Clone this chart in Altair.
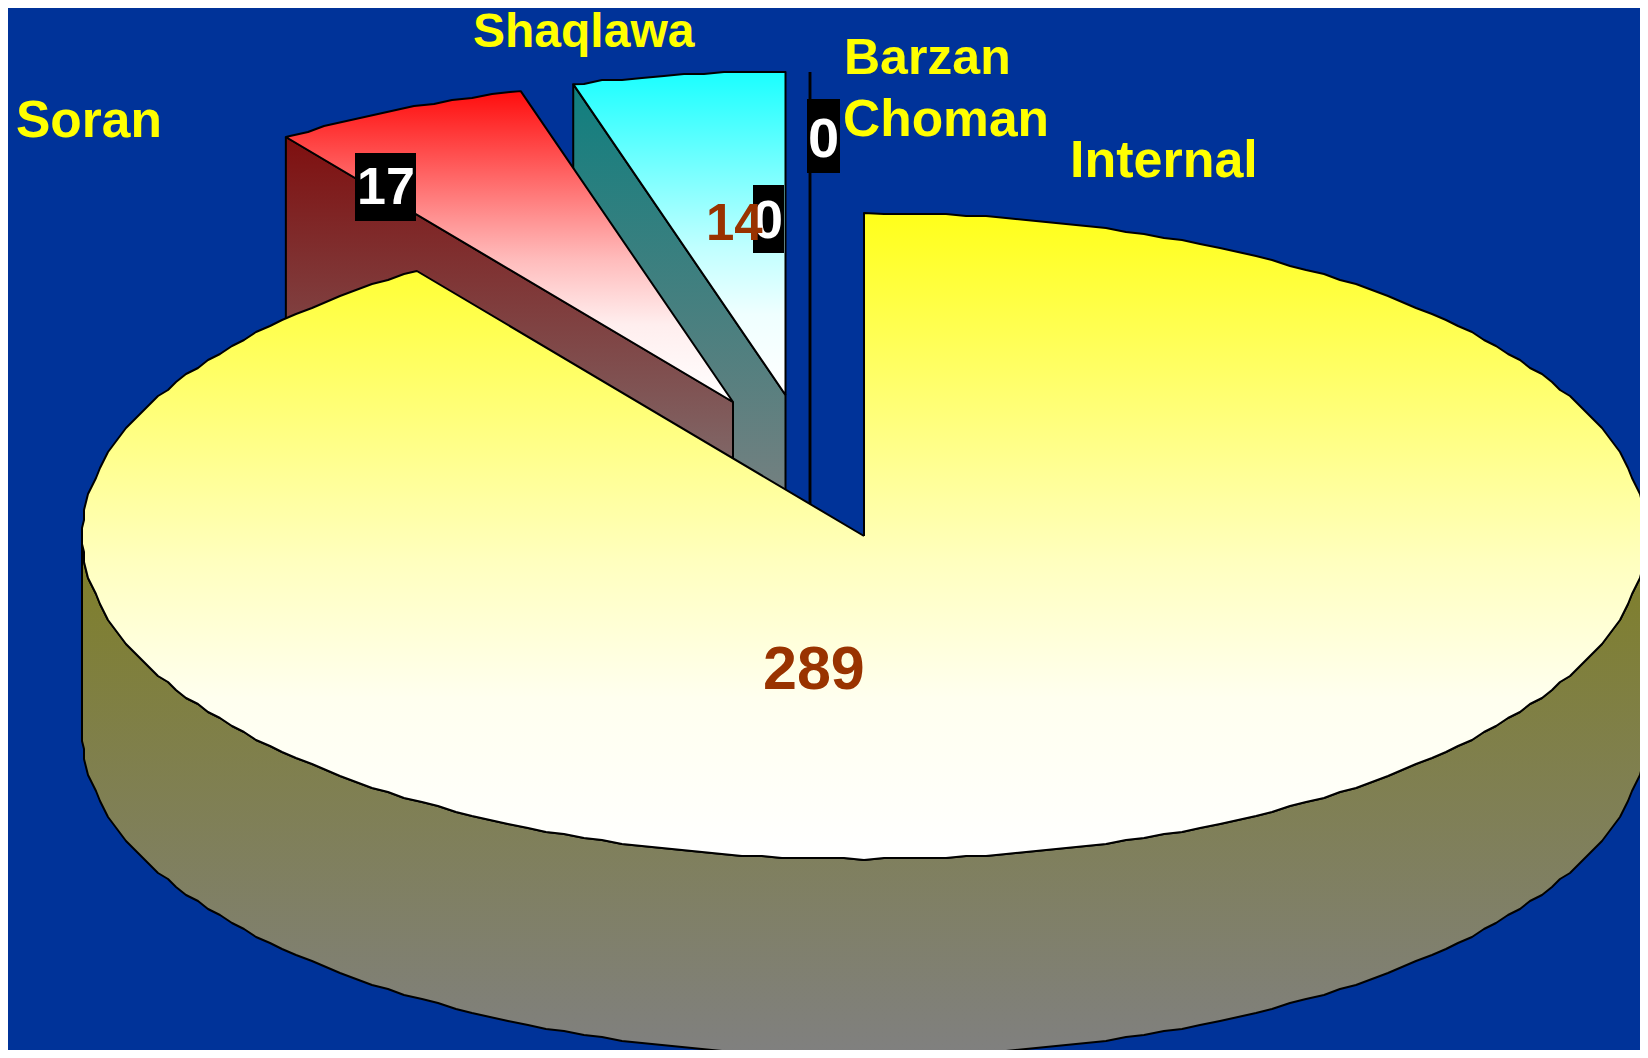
import math
import altair as alt
import pandas as pd

# Data
categories = ["Internal", "Soran", "Shaqlawa", "Barzan", "Choman"]
values = [289, 17, 14, 0, 0]

# Layout of the projected pie (picture pixels)
W, H = 1632, 1042
ORIGIN = 8
RX, RY, DEPTH = 782, 323, 197
GRID = 2  # the outline of the reference is slightly stepped
STEP = 1.5
apex = {
    "Internal": (864, 536),
    "Soran": (733, 402),
    "Shaqlawa": (785.5, 395),
    "Barzan": (810, 395),
    "Choman": (810, 395),
}
top_colors = {"Internal": "#ffff1a", "Soran": "#ff0d0d", "Shaqlawa": "#1affff"}
wall_colors = {"Internal": "#7f7f26", "Soran": "#7f0f0f", "Shaqlawa": "#0f7f7f"}
# (position along the face, share of white)
face_ramp = [(0, 0), (0.41, 0.55), (0.54, 0.72), (0.75, 0.93), (1, 1)]
wall_ramp = [(0, 0), (0.9, 1), (1, 1)]
plain_ramp = [(0, 0), (1, 1)]

x_scale = alt.Scale(domain=[ORIGIN, ORIGIN + W], range=[0, W])
y_scale = alt.Scale(domain=[ORIGIN, ORIGIN + H], range=[0, H])


def mix(c1, c2, t):
    a = [int(c1[i:i + 2], 16) for i in (1, 3, 5)]
    b = [int(c2[i:i + 2], 16) for i in (1, 3, 5)]
    return "#" + "".join(f"{round(p + (q - p) * t):02x}" for p, q in zip(a, b))


def gradient(c1, c2, ramp):
    return alt.LinearGradient(
        gradient="linear", x1=0, x2=0, y1=0, y2=1,
        stops=[alt.GradientStop(color=mix(c1, c2, t), offset=o) for o, t in ramp],
    )


def polygon(points, c1, c2, ramp=plain_ramp, width=2):
    df = pd.DataFrame({"x": [p[0] for p in points], "y": [p[1] for p in points]})
    df["i"] = range(len(df))
    return alt.Chart(df).mark_line(
        fill=gradient(c1, c2, ramp), stroke="black", strokeWidth=width, strokeJoin="round", clip=True
    ).encode(
        x=alt.X("x:Q", scale=x_scale, axis=None),
        y=alt.Y("y:Q", scale=y_scale, axis=None),
        order="i:Q",
    )


def rim(name, deg, stepped=False):
    a = math.radians(deg)
    cx, cy = apex[name]
    x, y = cx + RX * math.sin(a), cy - RY * math.cos(a)
    if stepped:
        x, y = round(x / GRID) * GRID, round(y / GRID) * GRID
    return (x, y)


def arc(name, d0, d1):
    # interior samples sit on a common angular grid so faces and walls share their edge
    k0 = math.floor(d0 / STEP) + 1
    k1 = math.ceil(d1 / STEP) - 1
    inner = [rim(name, k * STEP, True) for k in range(k0, k1 + 1)]
    return [rim(name, d0)] + inner + [rim(name, d1)]


total = sum(values)
start = {}
end = {}
acc = 0
for c, v in zip(categories, values):
    start[c] = acc / total * 360
    acc += v
    end[c] = acc / total * 360

layers = []


def wedge_layers(name):
    cx, cy = apex[name]
    p0 = rim(name, start[name])
    wall = [p0, (cx, cy), (cx, cy + DEPTH), (p0[0], p0[1] + DEPTH), p0]
    face = [(cx, cy)] + arc(name, start[name], end[name]) + [(cx, cy)]
    return [
        polygon(wall, wall_colors[name], "#808080", wall_ramp),
        polygon(face, top_colors[name], "#ffffff", face_ramp),
    ]


# Zero-size slices are a single edge, drawn behind the rest
for name in ["Barzan", "Choman"]:
    cx, cy = apex[name]
    p0 = rim(name, start[name])
    layers.append(polygon([p0, (cx, cy), (cx, cy + DEPTH)], "#000000", "#000000", plain_ramp, 2.5))

layers += wedge_layers("Shaqlawa")
layers += wedge_layers("Soran")

# Main slice: outer wall and top face
front = arc("Internal", 90, 270)
side = front + [(x, y + DEPTH) for x, y in reversed(front)] + [front[0]]
layers.append(polygon(side, wall_colors["Internal"], "#808080"))
cx, cy = apex["Internal"]
layers.append(
    polygon([(cx, cy)] + arc("Internal", start["Internal"], end["Internal"]) + [(cx, cy)],
            top_colors["Internal"], "#ffffff", face_ramp)
)

# Value label backgrounds
boxes = pd.DataFrame({
    "x": [355, 753, 807], "x2": [416, 784, 840],
    "y": [153, 185, 99], "y2": [221, 253, 173],
})
layers.append(
    alt.Chart(boxes).mark_rect(color="black").encode(
        x=alt.X("x:Q", scale=x_scale, axis=None), x2="x2:Q",
        y=alt.Y("y:Q", scale=y_scale, axis=None), y2="y2:Q",
    )
)


def texts(labels, xs, ys, color, size):
    df = pd.DataFrame({"t": labels, "x": xs, "y": ys})
    return alt.Chart(df).mark_text(
        font="Liberation Sans", fontWeight="bold", fontSize=size, color=color,
        align="left", baseline="alphabetic",
    ).encode(
        x=alt.X("x:Q", scale=x_scale, axis=None),
        y=alt.Y("y:Q", scale=y_scale, axis=None),
        text="t:N",
    )


layers.append(texts([str(values[1])], [357], [204], "white", 52))
layers.append(texts([str(values[3])], [753], [238], "white", 54))
layers.append(texts([str(values[4])], [808], [157], "white", 56))
layers.append(texts([str(values[2])], [706], [240], "#993300", 51))
layers.append(texts([str(values[0])], [763], [689], "#993300", 61))

layers.append(texts(["Soran"], [16], [137], "#ffff00", 51.5))
layers.append(texts(["Shaqlawa"], [473], [47], "#ffff00", 48))
layers.append(texts(["Barzan"], [844], [74], "#ffff00", 50))
layers.append(texts(["Choman"], [843], [136], "#ffff00", 51.5))
layers.append(texts(["Internal"], [1070], [177], "#ffff00", 52))

chart = alt.layer(*layers).properties(
    width=W, height=H, background="#003399", padding=0,
    autosize=alt.AutoSizeParams(type="none"),
).configure_view(stroke=None)

chart.save("out.html", embed_options={"renderer": "svg", "actions": False})
